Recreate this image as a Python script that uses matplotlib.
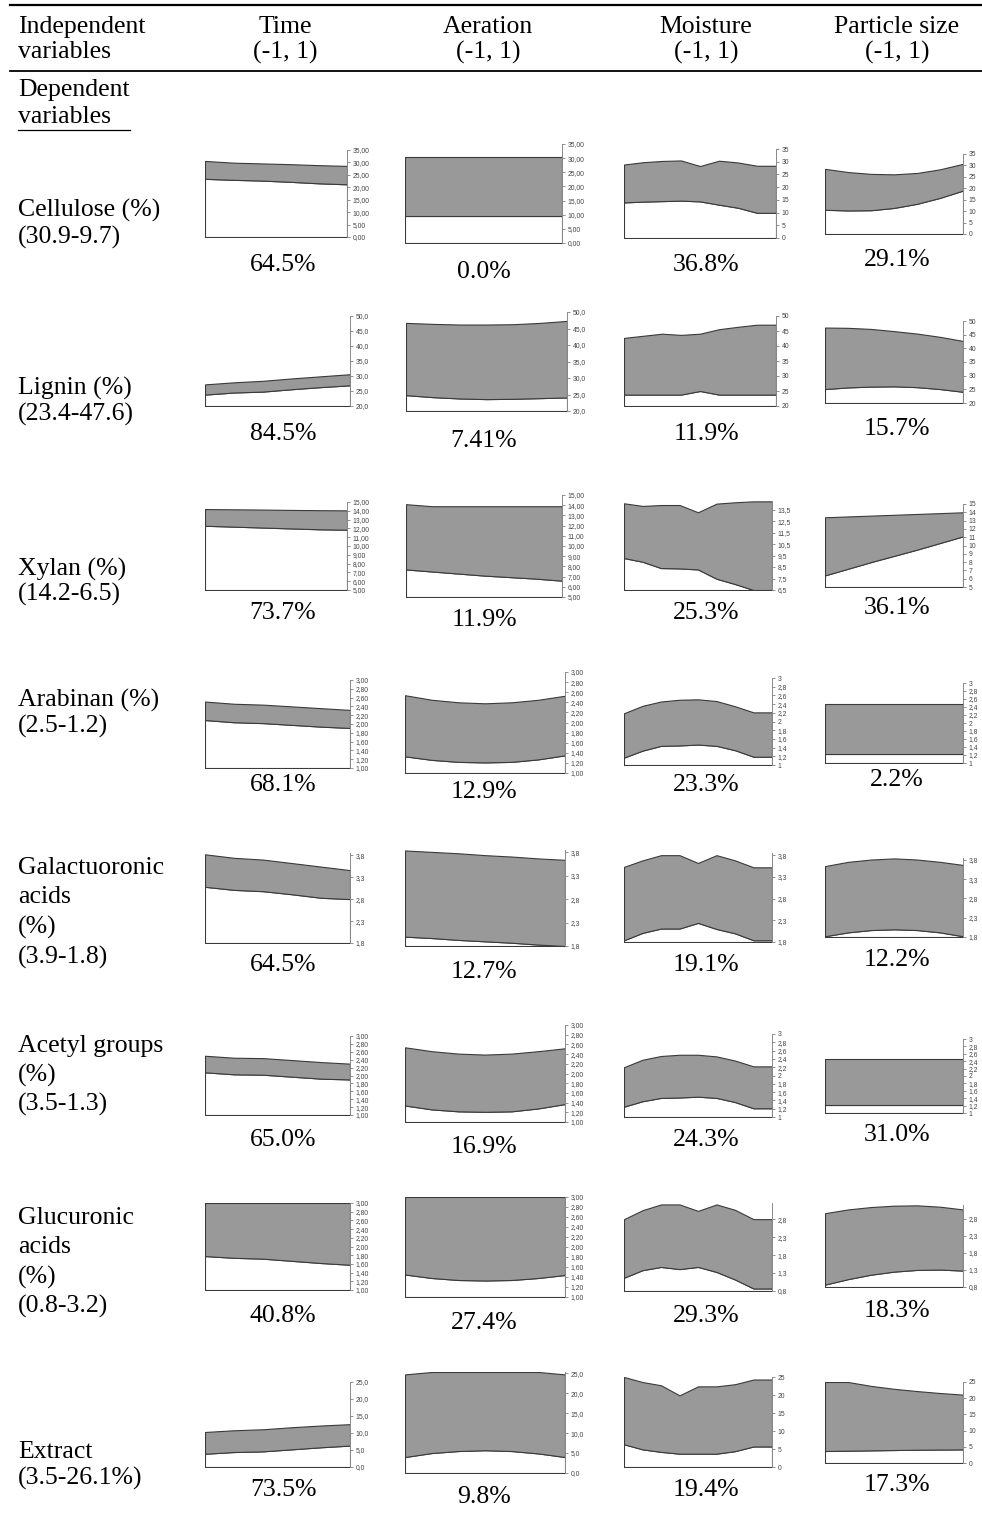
import numpy as np
import matplotlib
matplotlib.use("Agg")
import matplotlib.pyplot as plt
from matplotlib.lines import Line2D

# ---------------- data ----------------
col_titles = ["Time", "Aeration", "Moisture", "Particle size"]
col_sub = "(-1, 1)"
row_labels = [
    ["Cellulose (%)", "(30.9-9.7)"],
    ["Lignin (%)", "(23.4-47.6)"],
    ["Xylan (%)", "(14.2-6.5)"],
    ["Arabinan (%)", "(2.5-1.2)"],
    ["Galactuoronic", "acids", "(%)", "(3.9-1.8)"],
    ["Acetyl groups", "(%)", "(3.5-1.3)"],
    ["Glucuronic", "acids", "(%)", "(0.8-3.2)"],
    ["Extract", "(3.5-26.1%)"],
]
pct_labels = [
    ["64.5%", "0.0%", "36.8%", "29.1%"],
    ["84.5%", "7.41%", "11.9%", "15.7%"],
    ["73.7%", "11.9%", "25.3%", "36.1%"],
    ["68.1%", "12.9%", "23.3%", "2.2%"],
    ["64.5%", "12.7%", "19.1%", "12.2%"],
    ["65.0%", "16.9%", "24.3%", "31.0%"],
    ["40.8%", "27.4%", "29.3%", "18.3%"],
    ["73.5%", "9.8%", "19.4%", "17.3%"],
]

# x grids (coded levels from -1 to 1, rescaled 0..1)
x_time = [0, 0.2, 0.4, 0.6, 0.8, 1.0]
x_aer = [0, 1/6, 2/6, 0.5, 4/6, 5/6, 1.0]
x_moist = [0, 0.125, 0.25, 0.375, 0.5, 0.625, 0.75, 0.875, 1.0]
x_part = [0, 1/6, 2/6, 0.5, 4/6, 5/6, 1.0]

# Cellulose
cel_t_hi = [30.6, 29.9, 29.6, 29.3, 28.9, 28.6]
cel_t_lo = [23.4, 23.0, 22.7, 22.2, 21.6, 21.2]
cel_a_hi = [30.5, 30.5, 30.5, 30.5, 30.5, 30.5, 30.5]
cel_a_lo = [9.7, 9.7, 9.7, 9.7, 9.7, 9.7, 9.7]
cel_m_hi = [28.9, 29.8, 30.3, 30.5, 28.3, 30.4, 29.7, 28.4, 28.4]
cel_m_lo = [14.0, 14.3, 14.5, 14.7, 14.4, 13.1, 11.9, 9.9, 9.9]
cel_p_hi = [28.5, 27.1, 26.3, 26.1, 26.7, 28.3, 30.7]
cel_p_lo = [10.6, 10.3, 10.4, 11.4, 13.2, 15.8, 19.0]

# Lignin
lig_t_hi = [27.2, 27.9, 28.4, 29.2, 29.9, 30.6]
lig_t_lo = [23.8, 24.5, 24.8, 25.6, 26.3, 26.9]
lig_a_hi = [46.7, 46.4, 46.2, 46.2, 46.3, 46.7, 47.3]
lig_a_lo = [24.8, 24.2, 23.8, 23.6, 23.7, 23.9, 24.1]
lig_m_hi = [42.7, 43.4, 44.1, 43.7, 44.1, 45.6, 46.4, 47.1, 47.1]
lig_m_lo = [23.8, 23.8, 23.8, 23.8, 25.0, 23.8, 23.8, 23.8, 23.8]
lig_p_hi = [47.6, 47.5, 47.1, 46.3, 45.4, 44.2, 42.7]
lig_p_lo = [25.1, 25.7, 26.0, 26.1, 25.8, 25.1, 24.1]

# Xylan
xyl_t_hi = [14.2, 14.17, 14.14, 14.1, 14.07, 14.05]
xyl_t_lo = [12.3, 12.2, 12.1, 12.0, 11.9, 11.85]
xyl_a_hi = [14.1, 13.9, 13.9, 13.9, 13.9, 13.9, 13.9]
xyl_a_lo = [7.7, 7.5, 7.3, 7.1, 6.95, 6.8, 6.6]
xyl_m_hi = [14.05, 13.82, 13.9, 13.9, 13.27, 14.02, 14.14, 14.22, 14.22]
xyl_m_lo = [9.28, 8.96, 8.41, 8.38, 8.29, 7.48, 7.02, 6.5, 6.5]
xyl_p_hi = [13.4, 13.5, 13.6, 13.7, 13.8, 13.9, 14.0]
xyl_p_lo = [6.4, 7.2, 8.0, 8.75, 9.5, 10.3, 11.1]

# Arabinan
ara_t_hi = [2.51, 2.46, 2.44, 2.40, 2.36, 2.32]
ara_t_lo = [2.09, 2.04, 2.02, 1.98, 1.94, 1.91]
ara_a_hi = [2.54, 2.45, 2.40, 2.38, 2.40, 2.45, 2.53]
ara_a_lo = [1.33, 1.26, 1.22, 1.21, 1.22, 1.27, 1.35]
ara_m_hi = [2.19, 2.36, 2.46, 2.50, 2.51, 2.47, 2.35, 2.21, 2.21]
ara_m_lo = [1.17, 1.33, 1.44, 1.45, 1.47, 1.44, 1.34, 1.19, 1.19]
ara_p_hi = [2.47, 2.47, 2.47, 2.47, 2.47, 2.47, 2.47]
ara_p_lo = [1.22, 1.22, 1.22, 1.22, 1.22, 1.22, 1.22]

# Galactuoronic acids
gal_t_hi = [3.82, 3.74, 3.70, 3.62, 3.54, 3.46]
gal_t_lo = [3.08, 3.01, 2.98, 2.91, 2.83, 2.80]
gal_a_hi = [3.84, 3.81, 3.78, 3.74, 3.71, 3.67, 3.64]
gal_a_lo = [2.00, 1.97, 1.93, 1.90, 1.87, 1.83, 1.80]
gal_m_hi = [3.53, 3.68, 3.80, 3.80, 3.62, 3.80, 3.68, 3.52, 3.52]
gal_m_lo = [1.84, 2.01, 2.11, 2.11, 2.24, 2.10, 2.00, 1.84, 1.84]
gal_p_hi = [3.64, 3.75, 3.81, 3.84, 3.81, 3.75, 3.67]
gal_p_lo = [1.82, 1.92, 1.98, 2.00, 1.98, 1.92, 1.82]

# Acetyl groups
ace_t_hi = [2.50, 2.45, 2.44, 2.39, 2.34, 2.30]
ace_t_lo = [2.08, 2.03, 2.02, 1.97, 1.92, 1.90]
ace_a_hi = [2.54, 2.46, 2.41, 2.39, 2.41, 2.46, 2.52]
ace_a_lo = [1.34, 1.26, 1.22, 1.21, 1.22, 1.28, 1.37]
ace_m_hi = [2.20, 2.38, 2.47, 2.50, 2.50, 2.46, 2.36, 2.22, 2.22]
ace_m_lo = [1.25, 1.38, 1.46, 1.47, 1.49, 1.46, 1.36, 1.21, 1.21]
ace_p_hi = [2.47, 2.47, 2.47, 2.47, 2.47, 2.47, 2.47]
ace_p_lo = [1.22, 1.22, 1.22, 1.22, 1.22, 1.22, 1.22]

# Glucuronic acids
glu_t_hi = [3.0, 3.0, 3.0, 3.0, 3.0, 3.0]
glu_t_lo = [1.78, 1.74, 1.72, 1.67, 1.62, 1.58]
glu_a_hi = [3.0, 3.0, 3.0, 3.0, 3.0, 3.0, 3.0]
glu_a_lo = [1.45, 1.38, 1.34, 1.33, 1.34, 1.38, 1.44]
glu_m_hi = [2.80, 3.05, 3.21, 3.21, 3.03, 3.21, 3.06, 2.80, 2.80]
glu_m_lo = [1.17, 1.38, 1.47, 1.41, 1.47, 1.33, 1.12, 0.87, 0.87]
glu_p_hi = [2.96, 3.07, 3.14, 3.18, 3.19, 3.15, 3.07]
glu_p_lo = [0.87, 1.03, 1.16, 1.25, 1.30, 1.31, 1.28]

# Extract
ext_t_hi = [10.3, 10.8, 11.1, 11.7, 12.2, 12.6]
ext_t_lo = [3.9, 4.4, 4.6, 5.2, 5.8, 6.3]
ext_a_hi = [24.7, 25.3, 25.3, 25.3, 25.3, 25.3, 24.7]
ext_a_lo = [4.0, 5.0, 5.5, 5.7, 5.5, 4.9, 4.0]
ext_m_hi = [25.0, 23.6, 22.7, 19.9, 22.4, 22.4, 23.0, 24.3, 24.3]
ext_m_lo = [6.3, 4.9, 4.2, 3.7, 3.7, 3.7, 4.4, 5.7, 5.7]
ext_p_hi = [25.0, 25.0, 23.8, 22.9, 22.2, 21.6, 21.1]
ext_p_lo = [3.7, 3.8, 3.9, 4.0, 4.1, 4.15, 4.2]

# tick values per row
ticks_cel_ta = [0, 5, 10, 15, 20, 25, 30, 35]
ticks_cel_mp = [0, 5, 10, 15, 20, 25, 30, 35]
ticks_lig_ta = [20, 25, 30, 35, 40, 45, 50]
ticks_lig_mp = [20, 25, 30, 35, 40, 45, 50]
ticks_xyl_ta = [5, 6, 7, 8, 9, 10, 11, 12, 13, 14, 15]
ticks_xyl_m = [6.5, 7.5, 8.5, 9.5, 10.5, 11.5, 12.5, 13.5]
ticks_xyl_p = [5, 6, 7, 8, 9, 10, 11, 12, 13, 14, 15]
ticks_one_three = [1.0, 1.2, 1.4, 1.6, 1.8, 2.0, 2.2, 2.4, 2.6, 2.8, 3.0]
ticks_gal = [1.8, 2.3, 2.8, 3.3, 3.8]
ticks_glu_mp = [0.8, 1.3, 1.8, 2.3, 2.8]
ticks_ext = [0, 5, 10, 15, 20, 25]

# ---------------- layout ----------------
W, H = 982, 1519
fig = plt.figure(figsize=(W / 100, H / 100), dpi=100)

SERIF = ["Liberation Serif", "DejaVu Serif"]
SANS = ["Liberation Sans", "DejaVu Sans"]
FS = 18.5
GRAY = "#999999"
EDGE = "#3a3a3a"


def fx(x):
    return x / W


def fy(y):
    return 1 - y / H


def comma(fmt):
    def f(v):
        if fmt == "g":
            s = ("%.1f" % v).rstrip("0").rstrip(".")
        else:
            s = fmt % v
        return s.replace(".", ",")
    return f


panels = [
    (x_time, cel_t_hi, cel_t_lo, (205, 347, 150, 237), (0, 35), ticks_cel_ta, "%.2f"),
    (x_aer, cel_a_hi, cel_a_lo, (405, 562, 144, 243), (0, 35), ticks_cel_ta, "%.2f"),
    (x_moist, cel_m_hi, cel_m_lo, (624, 776, 149, 238), (0, 35), ticks_cel_mp, "%d"),
    (x_part, cel_p_hi, cel_p_lo, (825, 963, 154, 234), (0, 35), ticks_cel_mp, "%d"),
    (x_time, lig_t_hi, lig_t_lo, (205, 350, 316, 406), (20, 50), ticks_lig_ta, "%.1f"),
    (x_aer, lig_a_hi, lig_a_lo, (406, 567, 312, 411), (20, 50), ticks_lig_ta, "%.1f"),
    (x_moist, lig_m_hi, lig_m_lo, (624, 776, 316, 406), (20, 50), ticks_lig_mp, "%d"),
    (x_part, lig_p_hi, lig_p_lo, (825, 963, 321, 403), (20, 50), ticks_lig_mp, "%d"),
    (x_time, xyl_t_hi, xyl_t_lo, (205, 347, 502, 590), (5, 15), ticks_xyl_ta, "%.2f"),
    (x_aer, xyl_a_hi, xyl_a_lo, (406, 562, 495, 597), (5, 15), ticks_xyl_ta, "%.2f"),
    (x_moist, xyl_m_hi, xyl_m_lo, (624, 772, 501, 590), (6.5, 14.25), ticks_xyl_m, "%.1f"),
    (x_part, xyl_p_hi, xyl_p_lo, (825, 963, 504, 587), (5, 15), ticks_xyl_p, "%d"),
    (x_time, ara_t_hi, ara_t_lo, (205, 350, 680, 768), (1, 3), ticks_one_three, "%.2f"),
    (x_aer, ara_a_hi, ara_a_lo, (405, 565, 672, 773), (1, 3), ticks_one_three, "%.2f"),
    (x_moist, ara_m_hi, ara_m_lo, (624, 772, 678, 765), (1, 3), ticks_one_three, "g"),
    (x_part, ara_p_hi, ara_p_lo, (825, 963, 683, 763), (1, 3), ticks_one_three, "g"),
    (x_time, gal_t_hi, gal_t_lo, (205, 350, 853, 943), (1.8, 3.85), ticks_gal, "%.1f"),
    (x_aer, gal_a_hi, gal_a_lo, (405, 565, 850, 946), (1.8, 3.85), ticks_gal, "%.1f"),
    (x_moist, gal_m_hi, gal_m_lo, (624, 772, 853, 942), (1.8, 3.85), ticks_gal, "%.1f"),
    (x_part, gal_p_hi, gal_p_lo, (825, 963, 858, 937), (1.8, 3.85), ticks_gal, "%.1f"),
    (x_time, ace_t_hi, ace_t_lo, (205, 350, 1036, 1115), (1, 3), ticks_one_three, "%.2f"),
    (x_aer, ace_a_hi, ace_a_lo, (405, 565, 1025, 1122), (1, 3), ticks_one_three, "%.2f"),
    (x_moist, ace_m_hi, ace_m_lo, (624, 772, 1034, 1117), (1, 3), ticks_one_three, "g"),
    (x_part, ace_p_hi, ace_p_lo, (825, 963, 1039, 1113), (1, 3), ticks_one_three, "g"),
    (x_time, glu_t_hi, glu_t_lo, (205, 350, 1203, 1290), (1, 3), ticks_one_three, "%.2f"),
    (x_aer, glu_a_hi, glu_a_lo, (405, 565, 1197, 1297), (1, 3), ticks_one_three, "%.2f"),
    (x_moist, glu_m_hi, glu_m_lo, (624, 772, 1203, 1291), (0.8, 3.25), ticks_glu_mp, "%.1f"),
    (x_part, glu_p_hi, glu_p_lo, (825, 963, 1205, 1287), (0.8, 3.2), ticks_glu_mp, "%.1f"),
    (x_time, ext_t_hi, ext_t_lo, (205, 350, 1382, 1467), (0, 25), ticks_ext, "%.1f"),
    (x_aer, ext_a_hi, ext_a_lo, (405, 565, 1372, 1473), (0, 25.3), ticks_ext, "%.1f"),
    (x_moist, ext_m_hi, ext_m_lo, (624, 772, 1377, 1467), (0, 25), ticks_ext, "%d"),
    (x_part, ext_p_hi, ext_p_lo, (825, 963, 1382, 1463), (0, 25), ticks_ext, "%d"),
]

for x, hi, lo, (x0, x1, yt, yb), ylim, ticks, fmt in panels:
    ax = fig.add_axes([fx(x0), fy(yb), (x1 - x0) / W, (yb - yt) / H])
    ax.patch.set_alpha(0)
    ax.fill_between(x, ylim[0], lo, facecolor="white", edgecolor=EDGE, linewidth=0.8)
    ax.fill_between(x, lo, hi, facecolor=GRAY, edgecolor=EDGE, linewidth=0.8)
    ax.set_xlim(0, 1)
    ax.set_ylim(*ylim)
    ax.set_xticks([])
    for s in ("top", "left", "bottom"):
        ax.spines[s].set_visible(False)
    ax.spines["right"].set_color("#8a8a8a")
    ax.spines["right"].set_linewidth(0.7)
    ax.yaxis.tick_right()
    ax.set_yticks(ticks)
    f = comma(fmt)
    ax.set_yticklabels([f(t) for t in ticks], fontfamily=SANS, fontsize=4.9, color="#444444")
    ax.tick_params(axis="y", direction="out", length=2, width=0.5, colors="#666666", pad=2,
                   labelcolor="#444444")

# ---------------- table text ----------------
fig.add_artist(Line2D([fx(10), fx(982)], [fy(5), fy(5)], color="black", lw=1.6))
fig.add_artist(Line2D([fx(10), fx(982)], [fy(71), fy(71)], color="black", lw=1.3))

fig.text(fx(18), fy(27), "Independent", fontfamily=SERIF, fontsize=FS, va="center", ha="left")
fig.text(fx(18), fy(52), "variables", fontfamily=SERIF, fontsize=FS, va="center", ha="left")
col_x = [285, 488, 706, 897]
for cx, t in zip(col_x, col_titles):
    fig.text(fx(cx), fy(27), t, fontfamily=SERIF, fontsize=FS, va="center", ha="center")
    fig.text(fx(cx), fy(52), col_sub, fontfamily=SERIF, fontsize=FS, va="center", ha="center")

fig.text(fx(18), fy(90), "Dependent", fontfamily=SERIF, fontsize=FS, va="center", ha="left")
fig.text(fx(18), fy(117), "variables", fontfamily=SERIF, fontsize=FS, va="center", ha="left")
fig.add_artist(Line2D([fx(18), fx(130)], [fy(130), fy(130)], color="black", lw=0.9))

label_y = [
    [210, 237],
    [388, 414],
    [569, 594],
    [700, 726],
    [868, 897, 927, 957],
    [1046, 1075, 1104],
    [1218, 1247, 1277, 1306],
    [1452, 1478],
]
for lines, ys in zip(row_labels, label_y):
    for t, yy in zip(lines, ys):
        fig.text(fx(18), fy(yy), t, fontfamily=SERIF, fontsize=FS, va="center", ha="left")

pct_base = [265, 434, 613, 785, 965, 1140, 1316, 1490]
pct_x = [283, 484, 706, 897]
pct_dy = [0, 7, 0, -5]
for row, yb in zip(pct_labels, pct_base):
    for t, cx, dy in zip(row, pct_x, pct_dy):
        fig.text(fx(cx), fy(yb + dy), t, fontfamily=SERIF, fontsize=FS, va="center", ha="center")

fig.savefig("out.png", dpi=100)
